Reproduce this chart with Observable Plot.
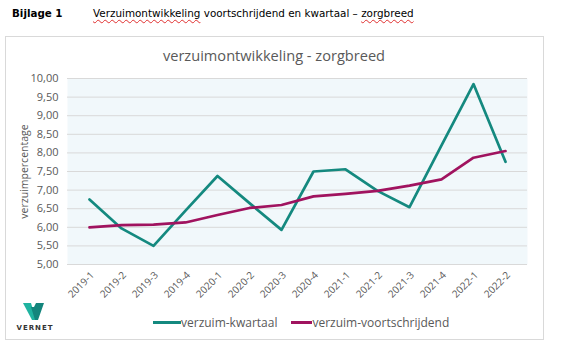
<!DOCTYPE html>
<html><head><meta charset="utf-8">
<script src="https://cdn.jsdelivr.net/npm/d3@7"></script>
<script src="https://cdn.jsdelivr.net/npm/@observablehq/plot@0.6"></script>
<style>
body{margin:0;background:#fff;width:569px;height:355px;position:relative;overflow:hidden;font-family:"Open Sans",sans-serif;}
#hdr1{position:absolute;left:12px;top:7px;font:bold 10.3px "DejaVu Sans";color:#000;}
#hdr2{position:absolute;left:93px;top:7px;font:10.4px "DejaVu Sans";color:#000;}
.sq{text-decoration:underline wavy #e03030;text-decoration-thickness:1px;text-underline-offset:2px;}
#box{position:absolute;left:5px;top:36px;width:537px;height:302px;border:1px solid #d9d9d9;}
#title{position:absolute;left:5px;width:538px;top:45px;text-align:center;font:14.6px "Open Sans";color:#595959;}
#chart{position:absolute;left:5px;top:66px;}
#legend{position:absolute;top:314px;left:153px;font:12px "Open Sans";color:#595959;display:flex;align-items:center;}
.sw{display:inline-block;height:3px;}
#logo{position:absolute;left:14px;top:302px;}
</style></head><body>
<div id="hdr1">Bijlage 1</div>
<div id="hdr2"><span class="sq">Verzuimontwikkeling</span> voortschrijdend en kwartaal – <span class="sq">zorgbreed</span></div>
<div id="box"></div>
<div id="title">verzuimontwikkeling - zorgbreed</div>
<div id="chart"></div>
<div id="legend"></div>
<svg id="logo" width="42" height="30" viewBox="0 0 42 30">
  <polygon points="9,1 17,1 22,18 18,18" fill="#1fb3a0"/>
  <polygon points="22,1 30,1 24,18 21,18 17,5 20,5" fill="#13857c"/>
  <text x="21" y="28" text-anchor="middle" font-family="DejaVu Sans" font-weight="bold" font-size="7" letter-spacing="1" fill="#333">VERNET</text>
</svg>
<script>
const quarters = ["2019-1","2019-2","2019-3","2019-4","2020-1","2020-2","2020-3","2020-4","2021-1","2021-2","2021-3","2021-4","2022-1","2022-2"];
const kwartaal = [6.75,5.97,5.5,6.45,7.38,6.65,5.93,7.5,7.56,6.98,6.54,8.2,9.85,7.76];
const voortschrijdend = [6.0,6.06,6.07,6.13,6.33,6.52,6.6,6.83,6.9,6.98,7.12,7.29,7.87,8.05];
const yTicks = [5,5.5,6,6.5,7,7.5,8,8.5,9,9.5,10];
const yTitle = "verzuimpercentage";
const seriesNames = ["verzuim-kwartaal","verzuim-voortschrijdend"];
const colors = ["#14897f","#a0135f"];

const rowsK = quarters.map((q,i)=>({q, v:kwartaal[i]}));
const rowsV = quarters.map((q,i)=>({q, v:voortschrijdend[i]}));

const chart = Plot.plot({
  width:538, height:238,
  marginLeft:62, marginRight:16, marginTop:12, marginBottom:40,
  style:{fontFamily:"Open Sans", fontSize:"10px", color:"#595959", background:"transparent", overflow:"visible"},
  x:{type:"point", domain:quarters, padding:0.5, label:null, axis:null},
  y:{domain:[5,10], label:null},
  marks:[
    Plot.frame({fill:"#f1f8fb", stroke:null}),
    Plot.gridY(yTicks, {stroke:"#d9d9d9", strokeOpacity:1, strokeWidth:1}),
    Plot.axisY(yTicks, {tickSize:0, tickPadding:9, fontSize:11, tickFormat:d=>d.toFixed(2).replace(".",","), label:null}),
    Plot.text([yTitle], {frameAnchor:"left", dx:-43, rotate:-90, textAnchor:"middle", lineAnchor:"middle", fontSize:10.5, fill:"#595959"}),
    Plot.text(quarters, {x:d=>d, frameAnchor:"bottom", rotate:-45, textAnchor:"end", lineAnchor:"middle", dx:3, dy:9, fontSize:10, fill:"#595959"}),
    Plot.line(rowsK, {x:"q", y:"v", stroke:colors[0], strokeWidth:2.7}),
    Plot.line(rowsV, {x:"q", y:"v", stroke:colors[1], strokeWidth:2.7})
  ]
});
document.getElementById("chart").appendChild(chart);

const lg = document.getElementById("legend");
seriesNames.forEach((n,i)=>{
  const s=document.createElement("span");s.className="sw";s.style.background=colors[i];s.style.width=i===0?"28px":"21px";
  const t=document.createElement("span");t.textContent=n;t.style.marginRight=i===0?"14px":"0";
  lg.appendChild(s);lg.appendChild(t);
});
</script>
</body></html>
